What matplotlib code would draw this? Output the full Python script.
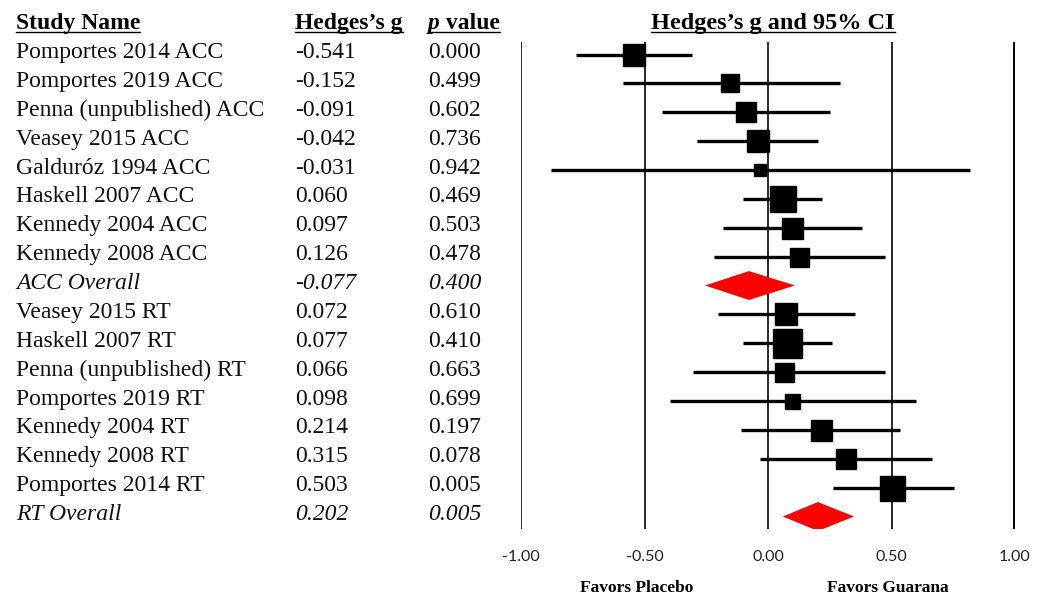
import matplotlib
matplotlib.use('Agg')
import matplotlib.pyplot as plt
import matplotlib.transforms as mtransforms
from matplotlib.lines import Line2D
from matplotlib.patches import Polygon

plt.rcParams['font.family'] = ['Liberation Serif', 'DejaVu Serif']
plt.rcParams['axes.unicode_minus'] = False

# data
studies = [
    'Pomportes 2014 ACC', 'Pomportes 2019 ACC', 'Penna (unpublished) ACC',
    'Veasey 2015 ACC', 'Galduróz 1994 ACC', 'Haskell 2007 ACC',
    'Kennedy 2004 ACC', 'Kennedy 2008 ACC', 'ACC Overall',
    'Veasey 2015 RT', 'Haskell 2007 RT', 'Penna (unpublished) RT',
    'Pomportes 2019 RT', 'Kennedy 2004 RT', 'Kennedy 2008 RT',
    'Pomportes 2014 RT', 'RT Overall',
]
hedges_g = [-0.541, -0.152, -0.091, -0.042, -0.031, 0.060, 0.097, 0.126, -0.077,
            0.072, 0.077, 0.066, 0.098, 0.214, 0.315, 0.503, 0.202]
p_values = [0.000, 0.499, 0.602, 0.736, 0.942, 0.469, 0.503, 0.478, 0.400,
            0.610, 0.410, 0.663, 0.699, 0.197, 0.078, 0.005, 0.005]
ci_lower = [-0.778, -0.589, -0.428, -0.286, -0.877, -0.102, -0.181, -0.220, -0.255,
            -0.202, -0.102, -0.302, -0.397, -0.111, -0.032, 0.262, 0.060]
ci_upper = [-0.306, 0.292, 0.251, 0.202, 0.818, 0.220, 0.379, 0.474, 0.109,
            0.352, 0.260, 0.474, 0.599, 0.536, 0.664, 0.752, 0.348]
# relative study weight (None = pooled estimate)
rel_weight = [23, 18, 20, 22, 12, 27, 21, 19, None,
              23, 29, 19, 15, 21, 20, 25, None]
x_ticks = [-1.0, -0.5, 0.0, 0.5, 1.0]

W, H = 1048, 599
fig = plt.figure(figsize=(W / 100, H / 100), dpi=100)
fig.patch.set_facecolor('white')

# forest panel: -1 at x=521px, 1 at x=1015px; rows 1..17
ax = fig.add_axes([521 / W, 1 - 528.5 / H, (1015 - 521) / W, (528.5 - 42) / H])
ax.set_xlim(-1, 1)
ax.set_ylim(17.415, 0.567)
for s in ax.spines.values():
    s.set_visible(False)
ax.set_yticks([])
ax.set_xticks(x_ticks)
ax.set_xticklabels([f'{t:.2f}' for t in x_ticks], fontfamily='Lato', fontsize=11.5,
                   color='#222222')
ax.tick_params(axis='x', length=0, pad=15.5)

for t in x_ticks:
    if t == 1.0:
        ax.axvline(t, color='black', lw=2.8, zorder=1)
    else:
        ax.axvline(t, color='#2a2a2a', lw=1.4, zorder=1)

rows = list(range(1, len(studies) + 1))
base_off = 0.121  # text baseline sits a little below the marker centre

for r, name, g, p, lo, hi, w in zip(rows, studies, hedges_g, p_values,
                                    ci_lower, ci_upper, rel_weight):
    if w is None:
        diamond = Polygon([(lo, r), (g, r - 0.5), (hi, r), (g, r + 0.5)],
                          closed=True, facecolor='#ff0000', edgecolor='none', zorder=3)
        ax.add_patch(diamond)
    else:
        ax.plot([lo, hi], [r, r], color='black', lw=2.4, solid_capstyle='butt', zorder=2)
        ax.plot(g, r, marker='s', ms=w * 0.72, color='black', mec='black', zorder=3)

# left-hand table
fs = 17
tr = mtransforms.blended_transform_factory(fig.transFigure, ax.transData)
col_name, col_g, col_p = 16 / W, 295 / W, 428 / W
for r, name, g, p, w in zip(rows, studies, hedges_g, p_values, rel_weight):
    style = 'italic' if w is None else 'normal'
    y = r + base_off
    ax.text(col_name, y, name, transform=tr, fontsize=fs, fontstyle=style,
            va='baseline', ha='left', color='#111111')
    ax.text(col_g, y, f'{g:.3f}', transform=tr, fontsize=fs, fontstyle=style,
            va='baseline', ha='left', color='#111111')
    ax.text(col_p, y, f'{p:.3f}', transform=tr, fontsize=fs, fontstyle=style,
            va='baseline', ha='left', color='#111111')

# headers
hy = base_off
h1 = ax.text(col_name, hy, 'Study Name', transform=tr, fontsize=fs,
             fontweight='bold', va='baseline', ha='left')
h2 = ax.text(col_g, hy, 'Hedges\u2019s g', transform=tr, fontsize=fs,
             fontweight='bold', va='baseline', ha='left')
h3a = ax.text(col_p, hy, 'p', transform=tr, fontsize=fs, fontweight='bold',
              fontstyle='italic', va='baseline', ha='left')
h4 = ax.text(0.02, hy, 'Hedges\u2019s g and 95% CI', fontsize=17.5,
             fontweight='bold', va='baseline', ha='center')

# direction labels under the axis
tr_fav = mtransforms.blended_transform_factory(ax.transData, fig.transFigure)
ax.text(-0.53, 1 - 592 / H, 'Favors Placebo', transform=tr_fav,
        fontsize=12.5, fontweight='bold', va='baseline', ha='center')
ax.text(0.485, 1 - 592 / H, 'Favors Guarana', transform=tr_fav,
        fontsize=12.5, fontweight='bold', va='baseline', ha='center')

fig.canvas.draw()
renderer = fig.canvas.get_renderer()
bb = h3a.get_window_extent(renderer)
h3b = fig.text(bb.x1 / W, 0, ' value', fontsize=fs, fontweight='bold',
               va='baseline', ha='left')
base_disp = tr.transform((col_p, hy))[1]
h3b.set_y(base_disp / H)
fig.canvas.draw()


def underline(texts):
    x0 = min(t.get_window_extent(renderer).x0 for t in texts)
    x1 = max(t.get_window_extent(renderer).x1 for t in texts)
    t0 = texts[0]
    yb = t0.get_transform().transform(t0.get_position())[1] - 3
    fig.lines.append(Line2D([x0 / W, x1 / W], [yb / H, yb / H], lw=1.0,
                            color='black', transform=fig.transFigure))


underline([h1])
underline([h2])
underline([h3a, h3b])
underline([h4])

fig.savefig('out.png', dpi=100, facecolor='white')
